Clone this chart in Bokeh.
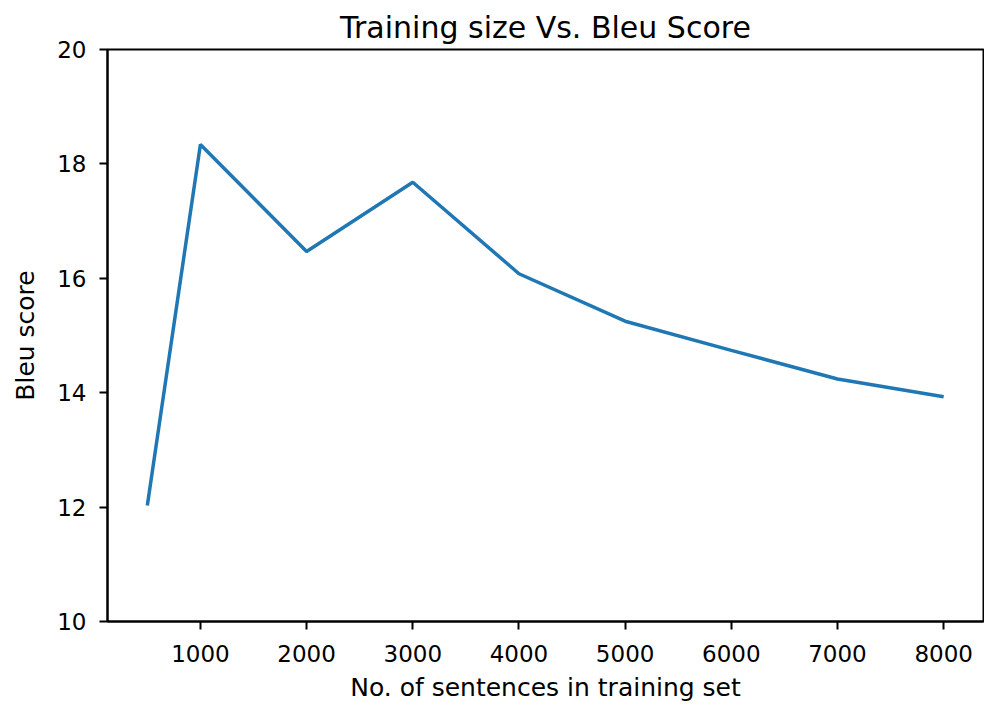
from bokeh.plotting import figure
from bokeh.models import Range1d, FixedTicker
from bokeh.embed import file_html
from bokeh.resources import INLINE

# Data
sizes = [500, 1000, 2000, 3000, 4000, 5000, 6000, 7000, 8000]
bleu = [12.03, 18.34, 16.47, 17.68, 16.08, 15.25, 14.74, 14.24, 13.93]
x_ticks = [1000, 2000, 3000, 4000, 5000, 6000, 7000, 8000]
y_ticks = [10, 12, 14, 16, 18, 20]

FONT = "DejaVu Sans"

p = figure(frame_width=876, frame_height=572, output_backend="svg", toolbar_location=None,
           x_range=Range1d(125, 8375), y_range=Range1d(10, 20),
           min_border_left=107, min_border_right=1, min_border_top=49, min_border_bottom=70)

p.line(sizes, bleu, line_color="#1f77b4", line_width=3.5)

p.title.text = "Training size Vs. Bleu Score"
p.title.align = "center"
p.title.text_font = FONT
p.title.text_font_size = "30px"
p.title.text_font_style = "normal"
p.title.text_color = "black"
p.title.standoff = 10

p.xgrid.visible = False
p.ygrid.visible = False
p.outline_line_color = "black"
p.outline_line_width = 2
p.outline_line_alpha = 1.0

p.xaxis.ticker = FixedTicker(ticks=x_ticks)
p.yaxis.ticker = FixedTicker(ticks=y_ticks)
p.xaxis.axis_label = "No. of sentences in training set"
p.yaxis.axis_label = "Bleu score"

for ax in (p.xaxis[0], p.yaxis[0]):
    ax.axis_line_color = "black"
    ax.axis_line_width = 2
    ax.major_tick_line_color = "black"
    ax.major_tick_line_width = 2
    ax.major_tick_out = 8
    ax.major_tick_in = 0
    ax.minor_tick_line_color = None
    ax.major_label_text_font = FONT
    ax.major_label_text_font_size = "23px"
    ax.major_label_text_color = "black"
    ax.axis_label_text_font = FONT
    ax.axis_label_text_font_size = "25px"
    ax.axis_label_text_font_style = "normal"
    ax.axis_label_text_color = "black"

p.xaxis.major_label_standoff = 15
p.xaxis.axis_label_standoff = 8
p.yaxis.major_label_standoff = 13
p.yaxis.axis_label_standoff = 14

open("out.html", "w").write(file_html(p, INLINE))
